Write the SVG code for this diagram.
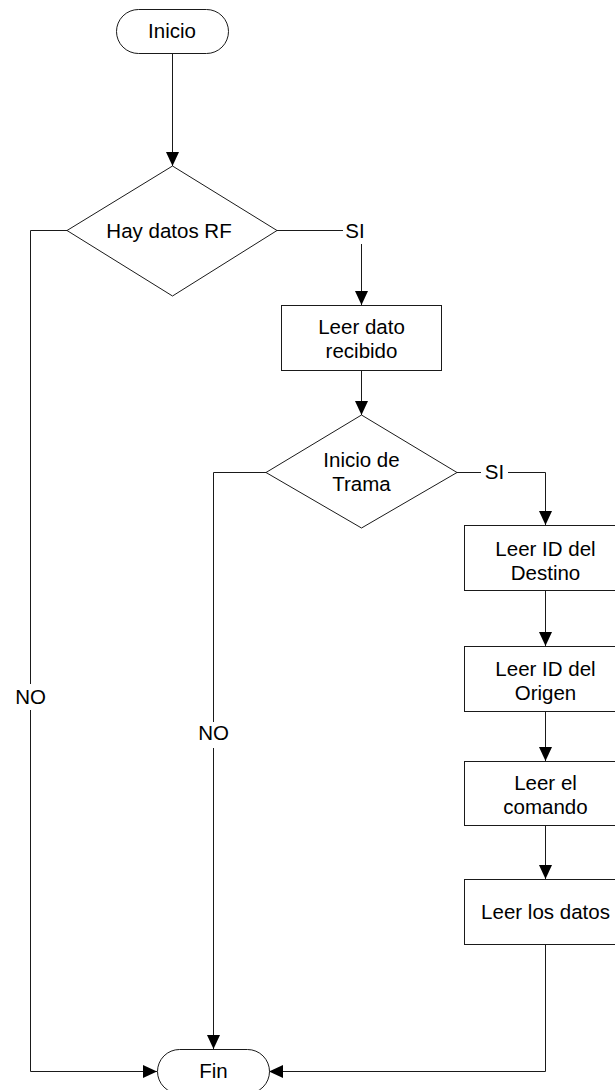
<svg xmlns="http://www.w3.org/2000/svg" width="615" height="1090" viewBox="0 0 615 1090">
  <style>
    .shape { fill: #ffffff; stroke: #1a1a1a; stroke-width: 1; }
    .wire { fill: none; stroke: #1a1a1a; stroke-width: 1; }
    .txt { font-family: "Liberation Sans", Arial, sans-serif; font-size: 20.5px; fill: #000000; text-anchor: middle; }
    .mask { fill: #ffffff; stroke: none; }
  </style>
  <defs>
    <marker id="arrow" viewBox="0 0 14 14" refX="14" refY="7" markerWidth="14" markerHeight="14" markerUnits="userSpaceOnUse" orient="auto">
      <path d="M0,0.5 L14,7 L0,13.5 Z" fill="#000000"/>
    </marker>
  </defs>

  <rect width="615" height="1090" fill="#ffffff"/>

  <!-- connectors -->
  <g id="connectors">
    <path class="wire" d="M172.5,53 V166" marker-end="url(#arrow)"/>
    <path class="wire" d="M277,230.5 H361.5 V305" marker-end="url(#arrow)"/>
    <path class="wire" d="M361.5,370 V415" marker-end="url(#arrow)"/>
    <path class="wire" d="M457,472.5 H545.5 V525" marker-end="url(#arrow)"/>
    <path class="wire" d="M545.5,590 V646" marker-end="url(#arrow)"/>
    <path class="wire" d="M545.5,711 V761" marker-end="url(#arrow)"/>
    <path class="wire" d="M545.5,825 V879" marker-end="url(#arrow)"/>
    <path class="wire" d="M545.5,944 V1071.5 H269" marker-end="url(#arrow)"/>
    <path class="wire" d="M67,230.5 H30.5 V1071.5 H157" marker-end="url(#arrow)"/>
    <path class="wire" d="M266,472.5 H213.5 V1049" marker-end="url(#arrow)"/>

    <!-- branch labels -->
    <rect class="mask" x="343" y="220" width="24" height="24"/>
    <text class="txt" x="355" y="237.5">SI</text>
    <rect class="mask" x="481" y="462" width="27" height="22"/>
    <text class="txt" x="494.5" y="479">SI</text>
    <rect class="mask" x="14" y="684" width="33" height="26"/>
    <text class="txt" x="30.5" y="704">NO</text>
    <rect class="mask" x="197" y="722" width="33" height="26"/>
    <text class="txt" x="213.5" y="740">NO</text>
  </g>

  <g id="inicio">
    <rect class="shape" x="116.5" y="9.5" width="112" height="44" rx="22" ry="22"/>
    <text class="txt" x="172" y="38">Inicio</text>
  </g>

  <g id="hay-datos">
    <polygon class="shape" points="172.5,166 277,230.5 172.5,296 67,230.5"/>
    <text class="txt" x="169" y="237.5">Hay datos RF</text>
  </g>

  <g id="leer-dato">
    <rect class="shape" x="281.5" y="305.5" width="160" height="65"/>
    <text class="txt" x="361.5" y="334">Leer dato</text>
    <text class="txt" x="361.5" y="358">recibido</text>
  </g>

  <g id="inicio-trama">
    <polygon class="shape" points="361.5,415 457,472.5 361.5,528 266,472.5"/>
    <text class="txt" x="361.5" y="466.5">Inicio de</text>
    <text class="txt" x="361.5" y="491">Trama</text>
  </g>

  <g id="leer-destino">
    <rect class="shape" x="464.5" y="525.5" width="162" height="65"/>
    <text class="txt" x="545.5" y="556">Leer ID del</text>
    <text class="txt" x="545.5" y="580">Destino</text>
  </g>

  <g id="leer-origen">
    <rect class="shape" x="464.5" y="646.5" width="162" height="65"/>
    <text class="txt" x="545.5" y="675.5">Leer ID del</text>
    <text class="txt" x="545.5" y="699.5">Origen</text>
  </g>

  <g id="leer-comando">
    <rect class="shape" x="464.5" y="761.5" width="162" height="64"/>
    <text class="txt" x="545.5" y="789.5">Leer el</text>
    <text class="txt" x="545.5" y="813.5">comando</text>
  </g>

  <g id="leer-datos">
    <rect class="shape" x="464.5" y="879.5" width="162" height="65"/>
    <text class="txt" x="545.5" y="919">Leer los datos</text>
  </g>

  <g id="fin">
    <rect class="shape" x="157.5" y="1049.5" width="112" height="44" rx="22" ry="22"/>
    <text class="txt" x="213.5" y="1078">Fin</text>
  </g>
</svg>
